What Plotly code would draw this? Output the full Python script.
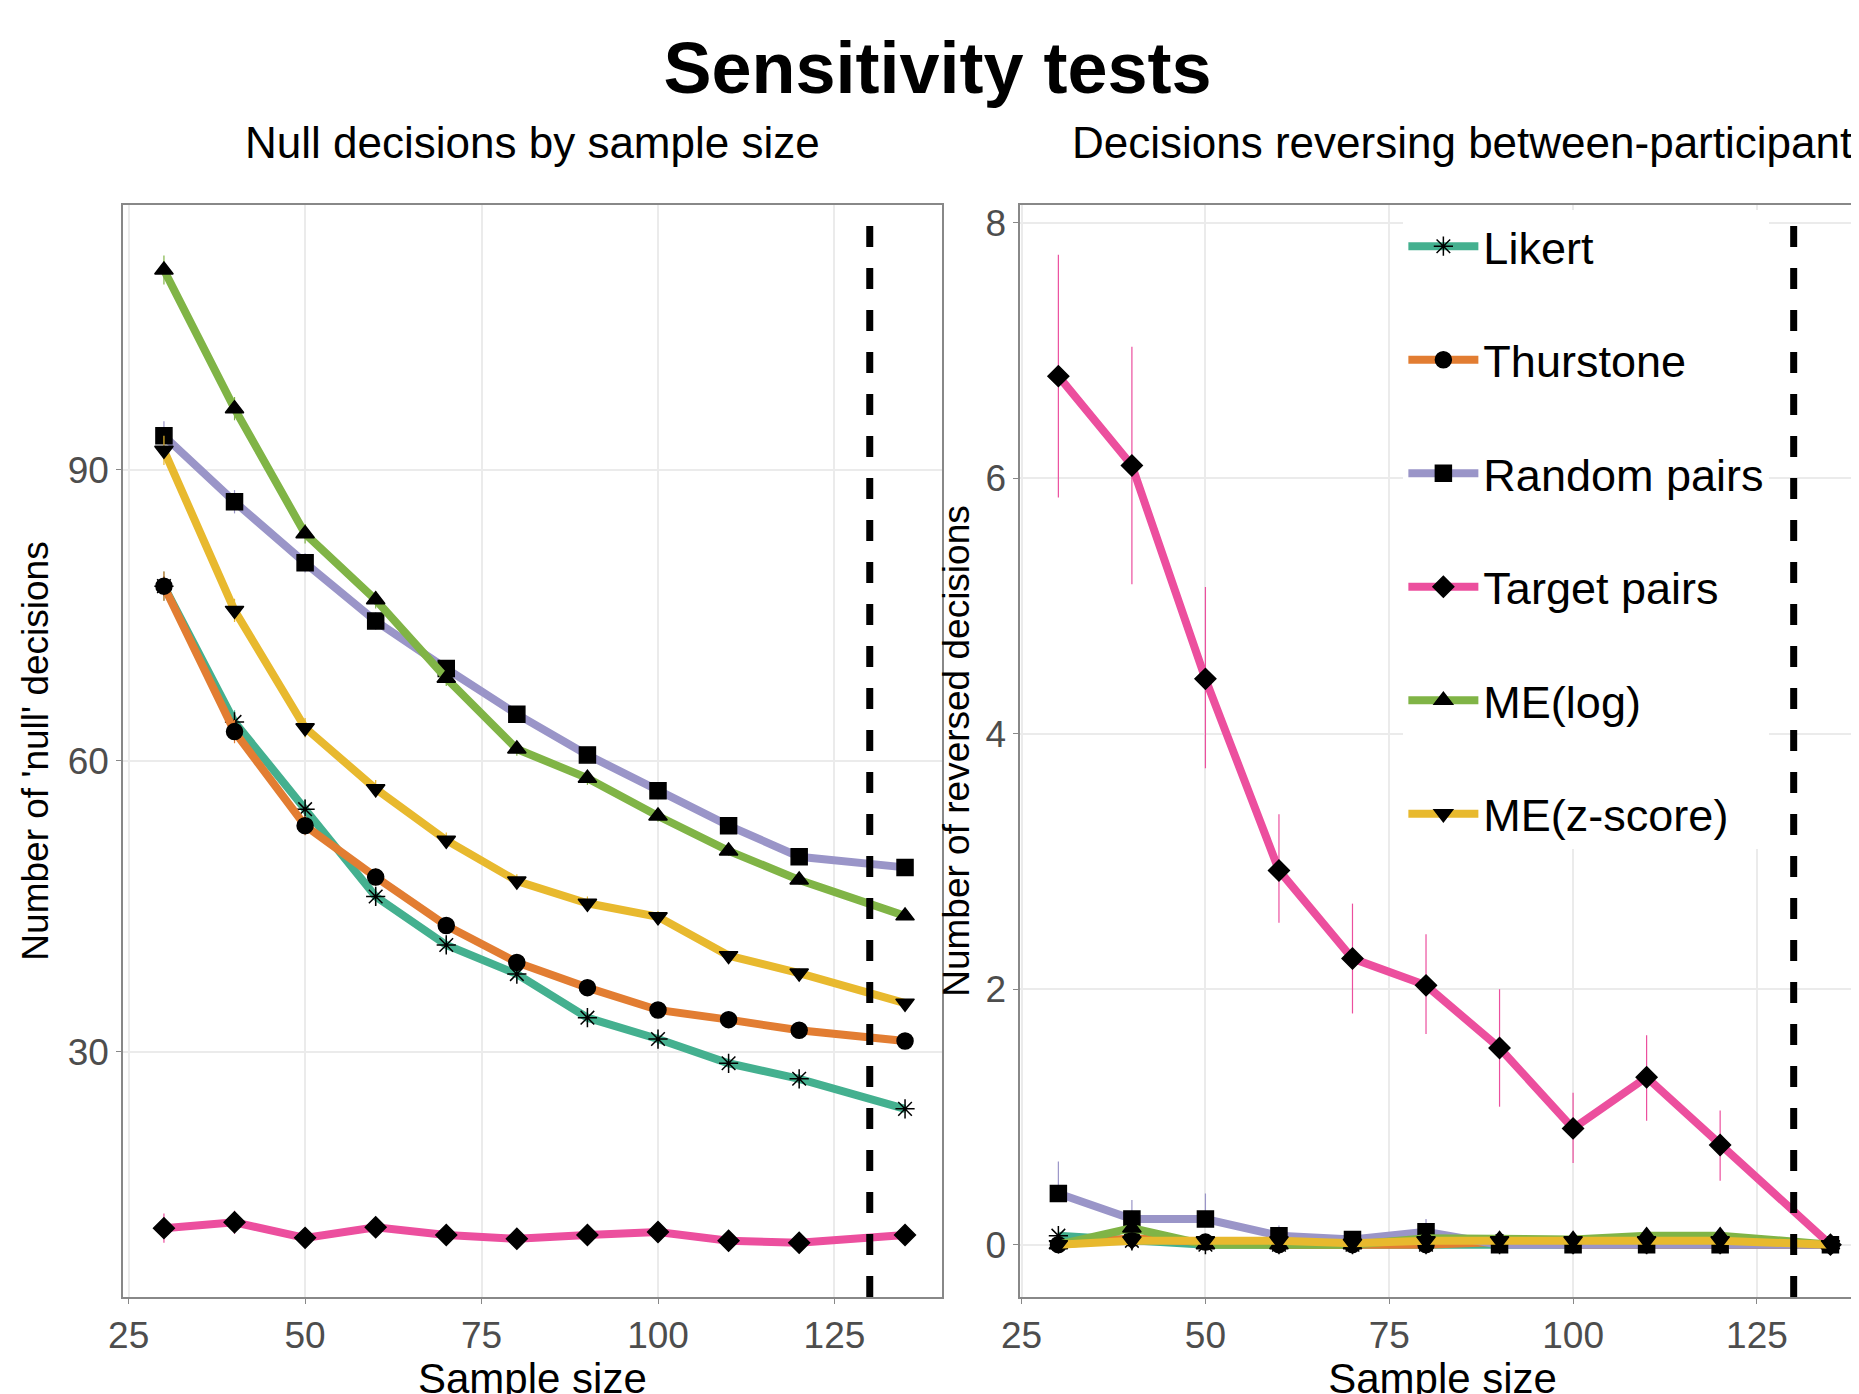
import plotly.graph_objects as go
from plotly.subplots import make_subplots

sizes = [30, 40, 50, 60, 70, 80, 90, 100, 110, 120, 135]
methods = ["Likert", "Thurstone", "Random pairs", "Target pairs", "ME(log)", "ME(z-score)"]
colors = ["#44b08f", "#e27d32", "#9a95c8", "#ec4f9e", "#80b446", "#e8b92e"]
symbols = ["asterisk-open", "circle", "square", "diamond", "triangle-up", "triangle-down"]

# Null decisions by sample size
null_vals = [
    [78, 64, 55, 46, 41, 38, 33.5, 31.3, 28.8, 27.2, 24.1],
    [78, 63, 53.3, 48, 43, 39.2, 36.6, 34.3, 33.3, 32.2, 31.1],
    [93.5, 86.7, 80.4, 74.4, 69.5, 64.8, 60.6, 56.9, 53.3, 50.1, 49],
    [11.8, 12.4, 10.8, 11.9, 11.1, 10.7, 11.1, 11.4, 10.5, 10.3, 11.1],
    [110.6, 96.3, 83.4, 76.6, 68.5, 61.2, 58.2, 54.3, 50.7, 47.7, 44],
    [92, 75.5, 63.4, 57.1, 51.8, 47.6, 45.3, 43.9, 39.9, 38.1, 35],
]
null_err = [1.5, 1.2, 1.0, 0.9, 0.8, 0.7, 0.7, 0.6, 0.5, 0.5, 0.4]

# Reversed decisions
rev_vals = [
    [0.07, 0.03, 0, 0, 0, 0, 0, 0, 0, 0, 0],
    [0, 0.05, 0.02, 0, 0, 0, 0.02, 0, 0, 0, 0],
    [0.4, 0.2, 0.2, 0.07, 0.04, 0.1, 0, 0, 0, 0, 0],
    [6.8, 6.1, 4.43, 2.93, 2.24, 2.03, 1.54, 0.91, 1.31, 0.78, 0.0],
    [0, 0.13, 0, 0, 0, 0.05, 0.04, 0.04, 0.07, 0.07, 0],
    [0, 0.03, 0.03, 0.03, 0.01, 0.03, 0.03, 0.03, 0.03, 0.03, 0],
]
target_hi = [7.75, 7.03, 5.15, 3.37, 2.67, 2.43, 2.0, 1.19, 1.64, 1.05, 0.0]
target_lo = [5.85, 5.17, 3.73, 2.52, 1.81, 1.65, 1.08, 0.64, 0.97, 0.5, 0.0]
random_hi = [0.65, 0.35, 0.4, 0.15, 0.08, 0.2, 0, 0, 0, 0, 0]

font = "Liberation Sans"
fig = make_subplots(rows=1, cols=2)

for i, m in enumerate(methods):
    fig.add_trace(go.Scatter(
        x=sizes, y=null_vals[i], mode="lines+markers", name=m, showlegend=False,
        line=dict(color=colors[i], width=8),
        marker=dict(symbol=symbols[i], color="black", size=16,
                    line=dict(color="black", width=1.5)),
        error_y=dict(type="data", array=null_err, color=colors[i], thickness=1.2, width=0),
    ), 1, 1)

for i, m in enumerate(methods):
    err = None
    if m == "Target pairs":
        err = dict(type="data", symmetric=False,
                   array=[h - v for h, v in zip(target_hi, rev_vals[i])],
                   arrayminus=[v - l for l, v in zip(target_lo, rev_vals[i])],
                   color=colors[i], thickness=1.2, width=0)
    elif m == "Random pairs":
        err = dict(type="data", array=[h - v if h else 0 for h, v in zip(random_hi, rev_vals[i])],
                   arrayminus=[0] * len(sizes), symmetric=False,
                   color=colors[i], thickness=1.2, width=0)
    fig.add_trace(go.Scatter(
        x=sizes, y=rev_vals[i], mode="lines+markers", name=m, legendgroup=m,
        line=dict(color=colors[i], width=8),
        marker=dict(symbol=symbols[i], color="black", size=16,
                    line=dict(color="black", width=1.5)),
        error_y=err,
    ), 1, 2)

for c in (1, 2):
    fig.add_vline(x=130, line=dict(color="black", width=7, dash="dash"), row=1, col=c)

axis_common = dict(showgrid=True, gridcolor="#ebebeb", gridwidth=1.5, zeroline=False,
                   showline=True, linecolor="#888888", linewidth=1.5, mirror=True,
                   ticks="outside", ticklen=5, tickcolor="#888888",
                   tickfont=dict(size=37, color="#4d4d4d"))

fig.update_xaxes(axis_common, range=[24.2, 140.2], tickvals=[25, 50, 75, 100, 125],
                 title=dict(text="Sample size", font=dict(size=42, color="black"), standoff=10))
fig.update_yaxes(axis_common)
fig.update_yaxes(range=[4.7, 117.3], tickvals=[30, 60, 90],
                 title=dict(text="Number of 'null' decisions", font=dict(size=37, color="black"), standoff=8),
                 row=1, col=1)
fig.update_yaxes(range=[-0.41, 8.14], tickvals=[0, 2, 4, 6, 8],
                 title=dict(text="Number of reversed decisions", font=dict(size=37, color="black"), standoff=4),
                 row=1, col=2)
fig.update_xaxes(range=[24.8, 139.7], row=1, col=2)

fig.update_layout(
    width=1859, height=1394,
    margin=dict(l=115, r=0, t=197, b=105),
    plot_bgcolor="white", paper_bgcolor="white",
    font=dict(family=font, color="black"),
    title=dict(text="<b>Sensitivity tests</b>", x=0.5, xanchor="center", y=0.957, yanchor="middle",
               font=dict(size=72, color="black")),
    legend=dict(x=0.735, y=0.995, xanchor="left", yanchor="top", bgcolor="white",
                font=dict(size=45), tracegroupgap=52, itemwidth=70),
    annotations=[
        dict(text="Null decisions by sample size", x=0.235, y=1.0, xref="paper", yref="paper",
             yshift=36, showarrow=False, font=dict(size=44), xanchor="center", yanchor="bottom"),
        dict(text="Decisions reversing between-participants", x=0.775, y=1.0, xref="paper", yref="paper",
             yshift=36, showarrow=False, font=dict(size=44), xanchor="center", yanchor="bottom"),
    ],
)
fig.layout.xaxis.domain = [0.0, 0.47]
fig.layout.xaxis2.domain = [0.515, 1.0]

fig.write_html("out.html")
